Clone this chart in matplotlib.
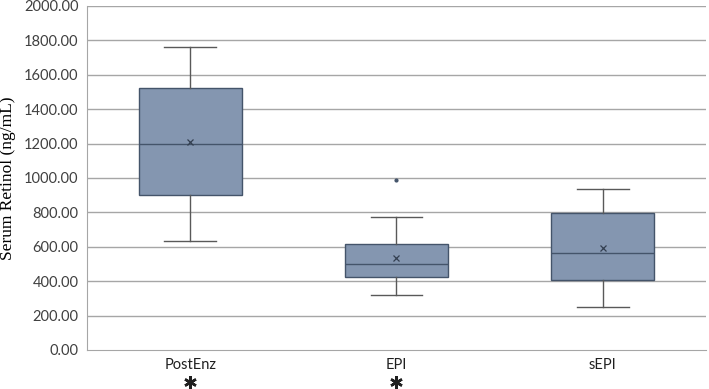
import matplotlib.pyplot as plt

# values (ng/mL)
groups = ["PostEnz", "EPI", "sEPI"]
whislo = [636, 322, 252]
q1 = [901, 426, 407]
med = [1199, 498, 564]
q3 = [1525, 614, 795]
whishi = [1763, 775, 936]
means = [1211, 533, 591]
outliers = [[], [988], []]
signif = [True, True, False]

stats = []
for i, g in enumerate(groups):
    stats.append(dict(label=g, whislo=whislo[i], q1=q1[i], med=med[i], q3=q3[i],
                      whishi=whishi[i], mean=means[i], fliers=outliers[i]))

fig = plt.figure(figsize=(7.09, 3.89), dpi=100)
ax = fig.add_axes([0.1227, 0.1003, 0.873, 0.8843])

for y in range(200, 2001, 200):
    ax.axhline(y, color="#a6a6a6", lw=1.0, zorder=0)

ax.bxp(stats, positions=range(len(groups)), widths=0.5, capwidths=0.25,
       showmeans=True, patch_artist=True,
       boxprops=dict(facecolor="#8496b0", edgecolor="#44546a", lw=1.0),
       medianprops=dict(color="#44546a", lw=1.0),
       whiskerprops=dict(color="#595959", lw=1.0),
       capprops=dict(color="#595959", lw=1.0),
       meanprops=dict(marker="x", markeredgecolor="#333f50", markersize=4, markeredgewidth=0.9),
       flierprops=dict(marker="o", markerfacecolor="#44546a", markeredgecolor="#44546a", markersize=2))

ax.set_xlim(-0.5, 2.5)
ax.set_ylim(0, 2000)
ax.set_yticks(range(0, 2001, 200))
ax.set_yticklabels([f"{v:.2f}" for v in range(0, 2001, 200)], fontsize=10.5,
                   family="Lato", color="#404040")
ax.set_xticks(range(len(groups)))
ax.set_xticklabels(groups, fontsize=10.5, family="Lato", color="#202020")
ax.tick_params(axis="both", length=0, pad=6)

for s in ["top", "right"]:
    ax.spines[s].set_visible(False)
ax.spines["left"].set_color("#a6a6a6")
ax.spines["bottom"].set_color("#a6a6a6")

ax.set_ylabel("Serum Retinol (ng/mL)", family="Liberation Serif", fontsize=12.5, labelpad=6)

# significance asterisks under the group labels
for i, s in enumerate(signif):
    if s:
        ax.plot(i, -186, marker=(6, 2, 0), markersize=9, markeredgewidth=1.8,
                color="#202020", clip_on=False)

fig.savefig("out.png", dpi=100)
